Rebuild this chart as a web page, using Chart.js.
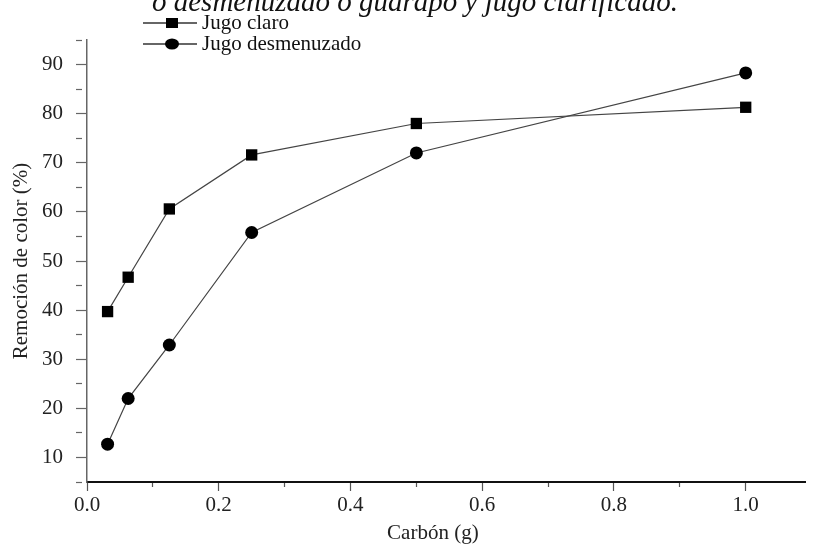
<!DOCTYPE html>
<html>
<head>
<meta charset="utf-8">
<script src="https://cdn.jsdelivr.net/npm/chart.js@4/dist/chart.umd.min.js"></script>
<style>
  html, body { margin: 0; padding: 0; background: #fff; overflow: hidden; }
  #wrap { position: relative; width: 813px; height: 547px; overflow: hidden; }
  #cap {
    position: absolute; left: 152px; top: -13px;
    font: italic 29px "Liberation Serif", serif; line-height: 29px;
    white-space: nowrap; color: #111;
  }
</style>
</head>
<body>
<div id="wrap">
  <canvas id="plot" width="813" height="547"></canvas>
  <div id="cap">o desmenuzado o guarapo y jugo clarificado.</div>
</div>
<script>
// carbon dose (g) and colour removal (%)
const carbon = [0.03125, 0.0625, 0.125, 0.25, 0.5, 1.0];
const jugoClaro = [39.7, 46.7, 60.6, 71.6, 78.0, 81.3];
const jugoDesmenuzado = [12.7, 22.0, 32.9, 55.8, 72.0, 88.3];
const seriesNames = ["Jugo claro", "Jugo desmenuzado"];

const serif = "'Liberation Serif', 'Times New Roman', serif";

const toPoints = (ys) => carbon.map((x, i) => ({ x: x, y: ys[i] }));

// legend drawn as line + marker, like the original plot
const legendKey = {
  id: "legendKey",
  afterDraw(chart) {
    const ctx = chart.ctx;
    chart.data.datasets.forEach((ds, i) => {
      const y = 23 + i * 21;
      ctx.save();
      ctx.strokeStyle = "#333";
      ctx.lineWidth = 1.3;
      ctx.beginPath();
      ctx.moveTo(143, y);
      ctx.lineTo(197, y);
      ctx.stroke();
      ctx.fillStyle = "#000";
      if (ds.pointStyle === "rect") {
        ctx.fillRect(166, y - 5, 12, 10);
      } else {
        ctx.beginPath();
        ctx.ellipse(172, y, 7, 5.5, 0, 0, Math.PI * 2);
        ctx.fill();
      }
      ctx.font = "21px " + serif;
      ctx.textBaseline = "middle";
      ctx.fillStyle = "#111";
      ctx.fillText(ds.label, 202, y);
      ctx.restore();
    });
  },
};

const plot = document.getElementById("plot").getContext("2d");

let plotChart = new Chart(plot, {
  type: "scatter",
  data: {
    datasets: [
      {
        label: seriesNames[0],
        data: toPoints(jugoClaro),
        showLine: true,
        borderColor: "#444",
        borderWidth: 1.2,
        backgroundColor: "#000",
        pointStyle: "rect",
        pointRadius: 8,
        pointBorderWidth: 0,
      },
      {
        label: seriesNames[1],
        data: toPoints(jugoDesmenuzado),
        showLine: true,
        borderColor: "#444",
        borderWidth: 1.2,
        backgroundColor: "#000",
        pointStyle: "circle",
        pointRadius: 6.5,
        pointBorderWidth: 0,
      },
    ],
  },
  options: {
    responsive: false,
    animation: false,
    layout: {
      padding: { top: 40, right: 0, left: 0, bottom: 0 },
    },
    plugins: {
      legend: { display: false },
      tooltip: { enabled: false },
    },
    scales: {
      x: {
        type: "linear",
        min: 0,
        max: 1.09,
        afterFit: (s) => { s.height = 65; },
        border: { color: "#111", width: 2 },
        grid: {
          drawOnChartArea: false,
          tickLength: 9,
          tickColor: "#555",
          tickWidth: 1.2,
          tickBorderDash: (c) => (c.tick && Math.round(c.tick.value * 10) % 2 ? [4, 100] : []),
        },
        ticks: {
          stepSize: 0.1,
          includeBounds: false,
          autoSkip: false,
          maxRotation: 0,
          padding: 2,
          color: "#222",
          font: { family: serif, size: 21 },
          callback: (v) => (Math.round(v * 10) % 2 ? "" : v.toFixed(1)),
        },
        title: {
          display: true,
          text: "Carbón (g)\u00a0\u00a0\u00a0\u00a0\u00a0",
          color: "#222",
          font: { family: serif, size: 21 },
          padding: { top: 0, bottom: 1 },
        },
      },
      y: {
        min: 5,
        max: 95,
        afterFit: (s) => { s.width = 87; },
        border: { color: "#666", width: 1.5 },
        grid: {
          drawOnChartArea: false,
          tickLength: 11,
          tickColor: "#666",
          tickWidth: 1.2,
          tickBorderDash: (c) => (c.tick && c.tick.value % 10 ? [6, 100] : []),
        },
        ticks: {
          stepSize: 5,
          autoSkip: false,
          padding: 13,
          color: "#222",
          font: { family: serif, size: 21 },
          callback: (v) => (v % 10 ? "" : v),
        },
        title: {
          display: true,
          text: "Remoción de color (%)",
          color: "#222",
          font: { family: serif, size: 21 },
          padding: { top: 9, bottom: 0 },
        },
      },
    },
  },
  plugins: [legendKey],
});
</script>
</body>
</html>
